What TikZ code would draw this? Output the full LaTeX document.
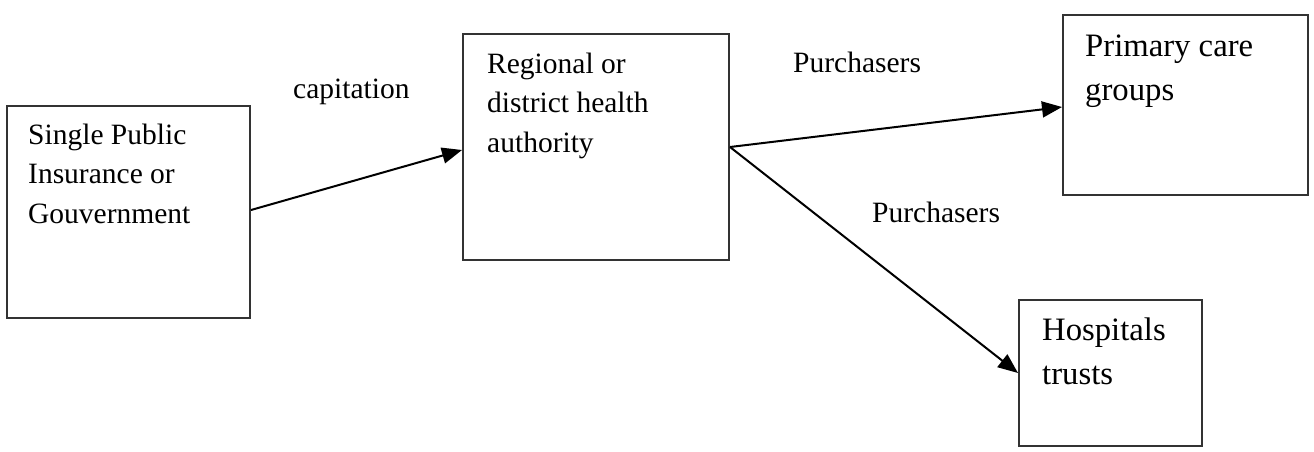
\documentclass[tikz,border=0pt]{standalone}
\usepackage{fontspec}
\setmainfont{Liberation Serif}
\usetikzlibrary{arrows.meta}
\tikzset{
  boxnode/.style={draw=black!80, line width=2pt, rectangle, inner sep=0pt},
  smalltext/.style={anchor=base west, inner sep=0pt, text width=260pt, align=flush left,
    font=\fontsize{29.5}{39.5}\selectfont},
  bigtext/.style={anchor=base west, inner sep=0pt, text width=240pt, align=flush left,
    font=\fontsize{32.7}{44}\selectfont},
  labeltext/.style={anchor=base west, inner sep=0pt, font=\fontsize{29.5}{39.5}\selectfont},
  flow/.style={line width=2pt, -{Triangle[length=20pt,width=16pt]}},
}
\begin{document}
\begin{tikzpicture}[x=1pt,y=-1pt]
\useasboundingbox (0,0) rectangle (1314,451);
\node[boxnode, minimum width=243pt, minimum height=212pt] (b1) at (128.5,212) {};
\node[boxnode, minimum width=266pt, minimum height=226pt] (b2) at (596,147) {};
\node[boxnode, minimum width=245pt, minimum height=180pt] (b3) at (1185.5,105) {};
\node[boxnode, minimum width=183pt, minimum height=146pt] (b4) at (1110.5,373) {};
\node[smalltext] (t1) at (28,144) {Single Public\\Insurance or\\Gouvernment};
\node[smalltext] (t2) at (487,73) {Regional or\\district health\\authority};
\node[bigtext] (t3) at (1085,56) {Primary care\\groups};
\node[bigtext] (t4) at (1042,340) {Hospitals\\trusts};
\node[labeltext] (l1) at (293,98) {capitation};
\node[labeltext] (l2) at (793,72) {Purchasers};
\node[labeltext] (l3) at (872,222) {Purchasers};
\draw[flow] ([yshift=2pt]b1.east) -- ([yshift=-3pt]b2.west);
\draw[flow] (b2.east) -- ([yshift=-2pt]b3.west);
\draw[flow] (b2.east) -- (b4.west);
\end{tikzpicture}
\end{document}
